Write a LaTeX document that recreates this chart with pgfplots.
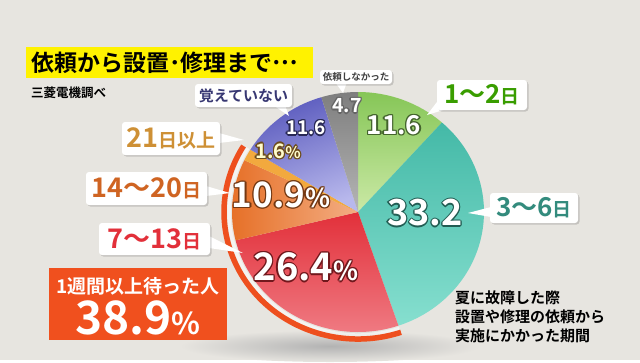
\documentclass[border=0pt]{standalone}
\usepackage{pgfplots}
\pgfplotsset{compat=1.18}
\usepackage{fontspec}
\setmainfont{Noto Sans CJK JP}[BoldFont={* Bold}]
\definecolor{bgc}{HTML}{E7E5E0}
\definecolor{grA}{HTML}{86C657}\definecolor{grB}{HTML}{CBE9A6}
\definecolor{tlA}{HTML}{44B9A7}\definecolor{tlB}{HTML}{86DFCF}
\definecolor{rdA}{HTML}{E2303A}\definecolor{rdB}{HTML}{F07E86}
\definecolor{orA}{HTML}{E66F26}\definecolor{orB}{HTML}{F3AE84}
\definecolor{yeA}{HTML}{F2A93E}
\definecolor{blA}{HTML}{5B5BBE}\definecolor{blB}{HTML}{B8B8EC}
\definecolor{gyA}{HTML}{7E7E7E}\definecolor{gyB}{HTML}{B5B5B5}
\definecolor{bandc}{HTML}{EE4F1E}
\definecolor{boxc}{HTML}{F0501E}
\definecolor{titc}{HTML}{FFF200}
% data: share of respondents (%)
\def\vA{11.6}% 1~2 days
\def\vB{33.2}% 3~6 days
\def\vC{26.4}% 7~13 days
\def\vD{10.9}% 14~20 days
\def\vE{1.6}% 21+ days
\def\vF{11.6}% don't remember
\def\vG{4.7}% did not request
\pgfmathsetmacro\aA{90}
\pgfmathsetmacro\aB{\aA-3.6*\vA}
\pgfmathsetmacro\aC{\aB-3.6*\vB}
\pgfmathsetmacro\aD{\aC-3.6*\vC}
\pgfmathsetmacro\aE{\aD-3.6*\vD}
\pgfmathsetmacro\aF{\aE-3.6*\vE}
\pgfmathsetmacro\aG{\aF-3.6*\vF}
\pgfmathsetmacro\aH{\aG-3.6*\vG}
\newcommand\slice[4]{%
  \path[top color=#3, bottom color=#4] (axis cs:358,212) -- ++(#1:126pt and 120pt)
    arc[start angle=#1, end angle=#2, x radius=126pt, y radius=120pt] -- cycle;}
\newcommand\olab[5]{%
  \node[text=#3] at ([shift={(1.3pt,0pt)}]axis cs:#1,#2) {#5};
  \node[text=#3] at ([shift={(-1.3pt,0pt)}]axis cs:#1,#2) {#5};
  \node[text=#3] at ([shift={(0pt,1.3pt)}]axis cs:#1,#2) {#5};
  \node[text=#3] at ([shift={(0pt,-1.3pt)}]axis cs:#1,#2) {#5};
  \node[text=#3] at ([shift={(0.9pt,0.9pt)}]axis cs:#1,#2) {#5};
  \node[text=#3] at ([shift={(-0.9pt,0.9pt)}]axis cs:#1,#2) {#5};
  \node[text=#3] at ([shift={(0.9pt,-0.9pt)}]axis cs:#1,#2) {#5};
  \node[text=#3] at ([shift={(-0.9pt,-0.9pt)}]axis cs:#1,#2) {#5};
  \node[text=#4] at (axis cs:#1,#2) {#5};}
\newcommand\callout[4]{% x1 y1 x2 y2
  \fill[black, opacity=0.15, rounded corners=3pt] ([shift={(1.5pt,-1.5pt)}]axis cs:#1,#2) rectangle ([shift={(1.5pt,-1.5pt)}]axis cs:#3,#4);
  \fill[white, rounded corners=3pt] (axis cs:#1,#2) rectangle (axis cs:#3,#4);}
\newcommand\fs[1]{\fontsize{#1}{#1}\selectfont}
\begin{document}
\begin{tikzpicture}
\begin{axis}[scale only axis, width=640pt, height=360pt,
  xmin=0, xmax=640, ymin=0, ymax=360, y dir=reverse,
  hide axis, clip=false]
\fill[bgc] (axis cs:0,0) rectangle (axis cs:640,360);
% shadow under the pie
\shade[inner color=black!30, outer color=bgc] (axis cs:330,346) ellipse [x radius=150pt, y radius=16pt];
% slices
\slice{\aA}{\aB}{grA}{grB}
\slice{\aB}{\aC}{tlA}{tlB}
\slice{\aC}{\aD}{rdA}{rdB}
\path[left color=orA, right color=orB] (axis cs:358,212) -- ++(\aD:126pt and 120pt)
    arc[start angle=\aD, end angle=\aE, x radius=126pt, y radius=120pt] -- cycle;
\slice{\aE}{\aF}{yeA}{yeA}
\path[top color=blA, bottom color=blB, shading angle=20] (axis cs:358,212) -- ++(\aF:126pt and 120pt)
    arc[start angle=\aF, end angle=\aG, x radius=126pt, y radius=120pt] -- cycle;
\slice{\aG}{\aH}{gyA}{gyB}
% band for 1 week or more
\draw[white, opacity=0.55, line width=3.5pt] (axis cs:358,212) ++(\aC:129pt and 123pt)
    arc[start angle=\aC, end angle=\aF, x radius=129pt, y radius=123pt];
\draw[bandc, line width=5.5pt] (axis cs:358,212) ++(\aC:134pt and 127pt)
    arc[start angle=\aC, end angle=\aF, x radius=134pt, y radius=127pt];
% title
\fill[titc] (axis cs:26,47) rectangle (axis cs:313,78);
\node[anchor=west, inner sep=0pt, font=\fs{23}\bfseries] at (axis cs:31,62.5) {依頼から設置･修理まで\raisebox{0.3em}{…}};
\node[anchor=west, inner sep=0pt, font=\fs{12.5}\bfseries] at (axis cs:31,93) {三菱電機調べ};
% callouts
\fill[white] (axis cs:335,82) -- (axis cs:347,82) -- (axis cs:343,93) -- cycle;
\callout{320}{70}{392}{84}
\node[text=black!75, font=\fs{9.5}\bfseries] at (axis cs:356,77) {依頼しなかった};
\fill[white] (axis cs:440,98) -- (axis cs:450,108) -- (axis cs:427,115) -- cycle;
\callout{437}{80}{527}{110}
\node[text=green!45!black!70!lime, font=\bfseries] at (axis cs:482,95) {{\fs{26}1～2}{\fs{19}日}};
\fill[white] (axis cs:491,207) -- (axis cs:491,217) -- (axis cs:468,213) -- cycle;
\callout{490}{193}{578}{223}
\node[text=tlA!75!black, font=\bfseries] at (axis cs:534,208) {{\fs{26}3～6}{\fs{19}日}};
\fill[white] (axis cs:273,105) -- (axis cs:285,105) -- (axis cs:289,116) -- cycle;
\callout{195}{84}{292}{107}
\node[text=blA!60!black, font=\fs{15}\bfseries] at (axis cs:243.5,95.5) {覚えていない};
\fill[white] (axis cs:219,133) -- (axis cs:219,143) -- (axis cs:244,140) -- cycle;
\callout{122}{122}{220}{155}
\node[text=yeA!85!black, font=\bfseries] at (axis cs:171,138.5) {{\fs{27}21}{\fs{19}日以上}};
\fill[white] (axis cs:206,186) -- (axis cs:206,196) -- (axis cs:230,193) -- cycle;
\callout{86}{172}{207}{205}
\node[text=orA!90!black, font=\bfseries] at (axis cs:146.5,188.5) {{\fs{27}14～20}{\fs{19}日}};
\fill[white] (axis cs:209,236) -- (axis cs:209,248) -- (axis cs:243,253) -- cycle;
\callout{99}{223}{210}{255}
\node[text=rdA, font=\bfseries] at (axis cs:154.5,239) {{\fs{27}7～13}{\fs{19}日}};
% highlight box
\fill[boxc] (axis cs:49,268) rectangle (axis cs:227,340);
\node[text=white, font=\fs{19}\bfseries] at (axis cs:138,286) {1週間以上待った人};
\node[text=white, font=\bfseries] at (axis cs:138,318) {{\fs{46}38.9}{\fs{30}\%}};
% values in slices
\olab{347}{106}{black!60}{white}{\fs{19.5}\bfseries 4.7}
\olab{394}{125}{grA!50!black}{white}{\fs{26}\bfseries 11.6}
\olab{425}{213}{tlA!50!black}{white}{\fs{36}\bfseries 33.2}
\olab{306}{267}{rdA!50!black}{white}{\bfseries{\fs{38}26.4}{\fs{26}\%}}
\olab{281}{195}{orA!50!black}{white}{\bfseries{\fs{35}10.9}{\fs{26}\%}}
\olab{278}{151}{yeA!45!black}{yellow!20}{\bfseries{\fs{20}1.6}{\fs{16}\%}}
\olab{306}{128}{blA!45!black}{white}{\fs{19}\bfseries 11.6}
% note
\node[anchor=north west, align=left, inner sep=0pt, font=\fs{15}\bfseries, execute at begin node=\setlength{\baselineskip}{19pt}] at (axis cs:455,291) {夏に故障した際\\設置や修理の依頼から\\実施にかかった期間};
\end{axis}
\end{tikzpicture}
\end{document}
